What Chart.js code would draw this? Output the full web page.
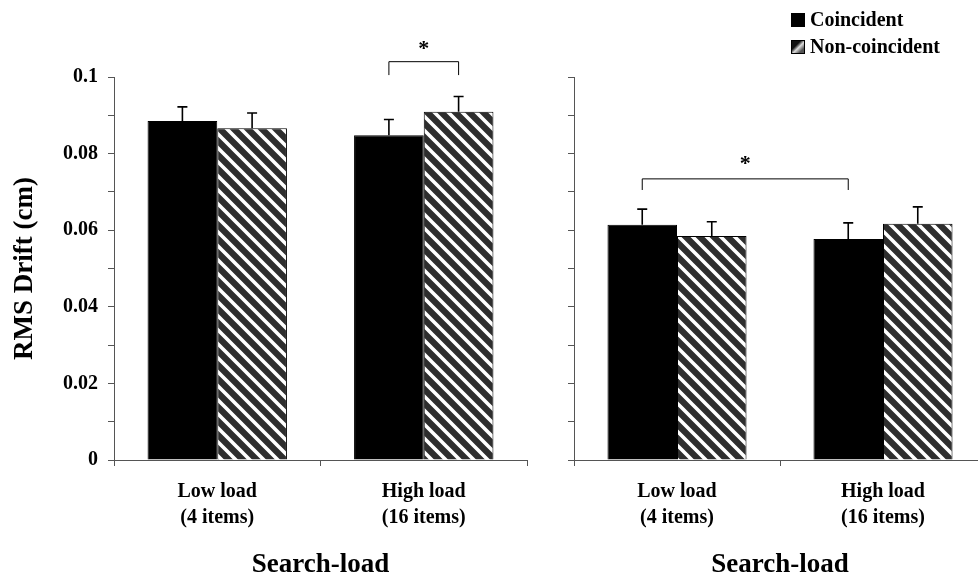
<!DOCTYPE html>
<html>
<head>
<meta charset="utf-8">
<script src="https://cdn.jsdelivr.net/npm/chart.js@4"></script>
<style>
  html, body { margin: 0; padding: 0; background: #fff; overflow: hidden; }
  #wrap { position: relative; width: 978px; height: 580px; overflow: hidden; }
  #left { position: absolute; left: 0; top: 0; }
  #right { position: absolute; left: 540px; top: 0; }
  #legend { position: absolute; left: 791px; top: 6px; font: bold 20px "Liberation Serif", serif; color: #000; }
  #legend .item { height: 27px; line-height: 27px; white-space: nowrap; }
  #legend .box { display: inline-block; width: 14px; height: 14px; margin-right: 5px; vertical-align: -1px; box-sizing: border-box; }
  #legend .solid { background: #000; }
  #legend .hatch { border: 1px solid #000; background: linear-gradient(135deg, #111 0 35%, #ddd 55%, #555 80%); }
</style>
</head>
<body>
<div id="wrap">
  <canvas id="left" width="540" height="580"></canvas>
  <canvas id="right" width="460" height="580"></canvas>
  <div id="legend"></div>
</div>
<script>
// data
const categories = [["Low load", "(4 items)"], ["High load", "(16 items)"]];
const seriesNames = ["Coincident", "Non-coincident"];

const leftCoincident = [0.0885, 0.0848];
const leftNonCoincident = [0.0866, 0.0909];
const leftCoincidentErr = [0.0037, 0.0041];
const leftNonCoincidentErr = [0.0040, 0.0040];

const rightCoincident = [0.0614, 0.0577];
const rightNonCoincident = [0.0585, 0.0617];
const rightCoincidentErr = [0.0041, 0.0042];
const rightNonCoincidentErr = [0.0037, 0.0044];

const yTickLabels = [0, 0.02, 0.04, 0.06, 0.08, 0.1];

// significance brackets: [dataset, category] endpoints, leg bottom, bracket top, star level
const leftBracket = { from: [0, 1], to: [1, 1], low: 0.1005, high: 0.104, star: 0.108 };
const rightBracket = { from: [0, 0], to: [0, 1], low: 0.0705, high: 0.0734, star: 0.078 };

const FONT = "'Liberation Serif', 'Times New Roman', serif";

function stripePattern() {
    const s = 14;
    const c = document.createElement("canvas");
    c.width = s; c.height = s;
    const g = c.getContext("2d");
    g.fillStyle = "#2e2e2e";
    g.fillRect(0, 0, s, s);
    g.strokeStyle = "#ffffff";
    g.lineWidth = 3.6;
    g.beginPath();
    for (let k = -1; k <= 1; k++) {
        g.moveTo(-2, -2 + k * s);
        g.lineTo(s + 2, s + 2 + k * s);
    }
    g.stroke();
    return document.getElementById("left").getContext("2d").createPattern(c, "repeat");
}

const errorBars = {
    id: "errorBars",
    afterDatasetsDraw(chart) {
        const ctx = chart.ctx;
        const y = chart.scales.y;
        chart.data.datasets.forEach((ds, i) => {
            chart.getDatasetMeta(i).data.forEach((bar, j) => {
                const top = y.getPixelForValue(ds.data[j] + ds.errors[j]);
                ctx.save();
                ctx.strokeStyle = "#000";
                ctx.lineWidth = 1.6;
                ctx.beginPath();
                ctx.moveTo(bar.x, bar.y);
                ctx.lineTo(bar.x, top);
                ctx.moveTo(bar.x - 5, top);
                ctx.lineTo(bar.x + 5, top);
                ctx.stroke();
                ctx.restore();
            });
        });
    }
};

const bracket = {
    id: "bracket",
    afterDraw(chart, args, opts) {
        const b = opts.spec;
        if (!b) return;
        const ctx = chart.ctx;
        const y = chart.scales.y;
        const x1 = chart.getDatasetMeta(b.from[0]).data[b.from[1]].x;
        const x2 = chart.getDatasetMeta(b.to[0]).data[b.to[1]].x;
        const yLow = y.getPixelForValue(b.low);
        const yHigh = y.getPixelForValue(b.high);
        ctx.save();
        ctx.strokeStyle = "#000";
        ctx.lineWidth = 1;
        ctx.beginPath();
        ctx.moveTo(x1, yLow);
        ctx.lineTo(x1, yHigh);
        ctx.lineTo(x2, yHigh);
        ctx.lineTo(x2, yLow);
        ctx.stroke();
        ctx.fillStyle = "#000";
        ctx.font = "bold 22px " + FONT;
        ctx.textAlign = "center";
        ctx.textBaseline = "middle";
        ctx.fillText("*", (x1 + x2) / 2, y.getPixelForValue(b.star) + 3);
        ctx.restore();
    }
};

function makeChart(id, coincident, nonCoincident, cErr, nErr, spec, showYLabels, yWidth, padRight) {
    const ctx = document.getElementById(id).getContext("2d");
    return new Chart(ctx, {
        type: "bar",
        data: {
            labels: categories,
            datasets: [
                {
                    label: seriesNames[0],
                    data: coincident,
                    errors: cErr,
                    backgroundColor: "#000",
                    borderColor: "#000",
                    borderWidth: 1
                },
                {
                    label: seriesNames[1],
                    data: nonCoincident,
                    errors: nErr,
                    backgroundColor: stripePattern(),
                    borderColor: "#000",
                    borderWidth: 1
                }
            ]
        },
        options: {
            responsive: false,
            animation: false,
            layout: { padding: { top: 77, right: padRight, left: 0, bottom: 0 } },
            datasets: { bar: { categoryPercentage: 0.675, barPercentage: 1 } },
            plugins: {
                legend: { display: false },
                tooltip: { enabled: false },
                bracket: { spec: spec }
            },
            scales: {
                x: {
                    afterFit: s => { s.height = 120; },
                    grid: { drawOnChartArea: false, drawTicks: true, tickLength: 6, color: "#555", offset: true },
                    border: { color: "#555", width: 1 },
                    ticks: {
                        color: "#000",
                        padding: 13,
                        maxRotation: 0,
                        font: { family: FONT, size: 20, weight: "bold", lineHeight: 1.3 }
                    },
                    title: {
                        display: true,
                        text: "Search-load",
                        color: "#000",
                        padding: { top: 0, bottom: 0 },
                        font: { family: FONT, size: 27, weight: "bold", lineHeight: 1.1 }
                    }
                },
                y: {
                    min: 0,
                    max: 0.1,
                    afterFit: s => { s.width = yWidth; },
                    grid: { drawOnChartArea: false, drawTicks: true, tickLength: 6, color: "#555" },
                    border: { color: "#555", width: 1 },
                    ticks: {
                        stepSize: 0.01,
                        color: "#000",
                        padding: 10,
                        font: { family: FONT, size: 20, weight: "bold" },
                        callback: v => {
                            if (!showYLabels) return "";
                            return yTickLabels.some(t => Math.abs(t - v) < 1e-9) ? String(Math.round(v * 100) / 100) : "";
                        }
                    },
                    title: {
                        display: showYLabels,
                        text: "RMS Drift (cm)",
                        color: "#000",
                        padding: { top: 9, bottom: 0 },
                        font: { family: FONT, size: 27, weight: "bold" }
                    }
                }
            }
        },
        plugins: [errorBars, bracket]
    });
}

function buildLegend() {
    const legend = document.getElementById("legend");
    const styles = ["solid", "hatch"];
    seriesNames.forEach((name, i) => {
        const item = document.createElement("div");
        item.className = "item";
        const box = document.createElement("span");
        box.className = "box " + styles[i];
        item.appendChild(box);
        item.appendChild(document.createTextNode(name));
        legend.appendChild(item);
    });
}

makeChart("left", leftCoincident, leftNonCoincident, leftCoincidentErr, leftNonCoincidentErr, leftBracket, true, 114, 13);
makeChart("right", rightCoincident, rightNonCoincident, rightCoincidentErr, rightNonCoincidentErr, rightBracket, false, 34, 14);
buildLegend();
</script>
</body>
</html>
